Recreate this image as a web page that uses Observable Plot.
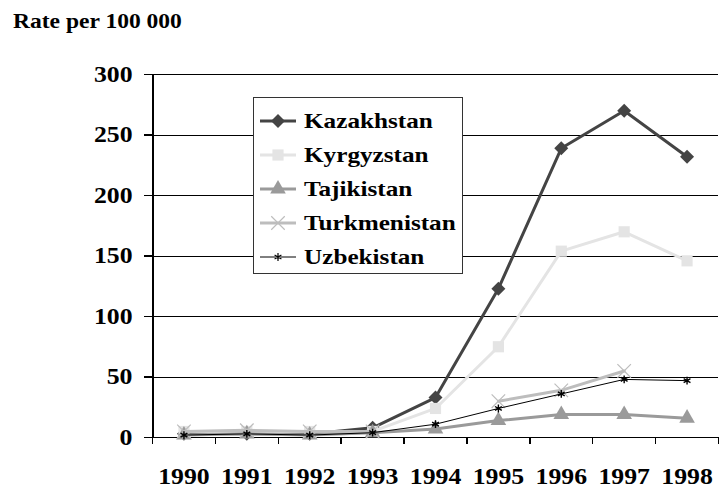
<!DOCTYPE html>
<html>
<head>
<meta charset="utf-8">
<script src="https://cdn.jsdelivr.net/npm/d3@7"></script>
<script src="https://cdn.jsdelivr.net/npm/@observablehq/plot@0.6"></script>
<style>
  body { margin: 0; background: #fff; }
  #wrap { position: relative; width: 720px; height: 489px; overflow: hidden; }
  #title { position: absolute; left: 0; top: 0; }
  #legend { position: absolute; left: 253px; top: 97px; width: 208px; height: 175px; background: #fff; border: 1px solid #333; }
</style>
</head>
<body>
<div id="wrap">
  <div id="chart"></div>
  <div id="title"></div>
  <div id="legend"></div>
</div>
<script>
const years = [1990, 1991, 1992, 1993, 1994, 1995, 1996, 1997, 1998];
const kazakhstan   = [3, 3, 3, 8, 33, 123, 239, 270, 232];
const kyrgyzstan   = [5, 5, 5, 5, 24, 75, 154, 170, 146];
const tajikistan   = [2, 3, 2, 4, 7, 14, 19, 19, 16];
const turkmenistan = [5, 6, 5, 5, null, 30, 39, 55, null];
const uzbekistan   = [2, 3, 2, 4, 11, 24, 36, 48, 47];
const yTicks = [0, 50, 100, 150, 200, 250, 300];
const boundaries = [1989.5, 1990.5, 1991.5, 1992.5, 1993.5, 1994.5, 1995.5, 1996.5, 1997.5, 1998.5];
const titleText = "Rate per 100 000";

const series = [
  {name: "Kazakhstan",   values: kazakhstan,   color: "#444444", width: 3,   symbol: "diamond2", r: 6.3, stroked: false},
  {name: "Kyrgyzstan",   values: kyrgyzstan,   color: "#e4e4e4", width: 3,   symbol: "square",   r: 6.3, stroked: false},
  {name: "Tajikistan",   values: tajikistan,   color: "#9a9a9a", width: 3,   symbol: "triangle", r: 5.8, stroked: false},
  {name: "Turkmenistan", values: turkmenistan, color: "#bdbdbd", width: 3,   symbol: "times",    r: 6.2, stroked: true},
  {name: "Uzbekistan",   values: uzbekistan,   color: "#000000", width: 1,   symbol: "asterisk", r: 3.7, stroked: true}
];

const font = '"Liberation Serif", "Times New Roman", serif';

function stretch(sel, k) {
  sel.each(function () {
    const len = this.getComputedTextLength();
    if (len > 0) {
      this.setAttribute("textLength", (len * k).toFixed(1));
      this.setAttribute("lengthAdjust", "spacingAndGlyphs");
    }
  });
}

const marks = [
  Plot.gridY({ticks: yTicks, stroke: "#000", strokeOpacity: 1, strokeWidth: 1, shapeRendering: "crispEdges"}),
  Plot.axisY({ticks: yTicks, tickSize: 8, tickPadding: 12, stroke: "#000", strokeWidth: 1.5, label: null, fontSize: 23, shapeRendering: "crispEdges"}),
  Plot.axisX({ticks: years, tickSize: 0, tickPadding: 30, tickFormat: d => String(d), label: null, fontSize: 23}),
  Plot.axisX({ticks: boundaries, tickSize: 7, tickFormat: () => "", label: null, stroke: "#000", strokeWidth: 1.5, shapeRendering: "crispEdges"}),
  Plot.ruleX([1989.5], {stroke: "#000", strokeWidth: 2, shapeRendering: "crispEdges"}),
  Plot.ruleY([0], {stroke: "#000", strokeWidth: 1.5, shapeRendering: "crispEdges"})
];

for (const s of series) {
  const data = years.map((y, i) => ({year: y, value: s.values[i]}));
  marks.push(Plot.line(data, {x: "year", y: "value", stroke: s.color, strokeWidth: s.width, curve: "linear"}));
  const pts = data.filter(d => d.value != null);
  if (s.stroked) {
    marks.push(Plot.dot(pts, {x: "year", y: "value", symbol: s.symbol, r: s.r, stroke: s.color, fill: "none", strokeWidth: s.name === "Uzbekistan" ? 1.4 : 1.2}));
  } else {
    marks.push(Plot.dot(pts, {x: "year", y: "value", symbol: s.symbol, r: s.r, fill: s.color, stroke: "none"}));
  }
}

const chart = Plot.plot({
  width: 720,
  height: 489,
  marginLeft: 152,
  marginRight: 2,
  marginTop: 74,
  marginBottom: 52,
  style: {fontFamily: font, fontSize: "23px", fontWeight: "bold", color: "#000", background: "#fff", overflow: "visible"},
  x: {type: "linear", domain: [1989.5, 1998.5]},
  y: {domain: [0, 300]},
  marks
});
document.getElementById("chart").appendChild(chart);
stretch(d3.select(chart).selectAll("g[aria-label*='tick label'] text"), 1.12);

// Title
const tsvg = d3.select("#title").append("svg").attr("width", 260).attr("height", 40)
  .style("font-family", font).style("font-weight", "bold").style("font-size", "22px");
const tt = tsvg.append("text").attr("x", 13).attr("y", 28).attr("fill", "#000").text(titleText);
stretch(tt, 1.07);

// Legend
const lw = 208, lh = 175;
const lg = d3.select("#legend").append("svg").attr("width", lw).attr("height", lh)
  .style("font-family", font).style("font-weight", "bold").style("font-size", "21px");
const symMap = {diamond2: d3.symbolDiamond2, square: d3.symbolSquare, triangle: d3.symbolTriangle, times: d3.symbolTimes, asterisk: d3.symbolAsterisk};
series.forEach((s, i) => {
  const cy = 23 + i * 34;
  const g = lg.append("g");
  g.append("line").attr("x1", 6).attr("x2", 42).attr("y1", cy).attr("y2", cy)
    .attr("stroke", s.color).attr("stroke-width", s.width);
  const path = d3.symbol(symMap[s.symbol], Math.PI * s.r * s.r)();
  const p = g.append("path").attr("d", path).attr("transform", `translate(24,${cy})`);
  if (s.stroked) p.attr("fill", "none").attr("stroke", s.color).attr("stroke-width", 1.2);
  else p.attr("fill", s.color);
  const t = g.append("text").attr("x", 50).attr("y", cy).attr("dy", "0.35em").attr("fill", "#000").text(s.name);
  stretch(t, 1.2);
});
</script>
</body>
</html>
